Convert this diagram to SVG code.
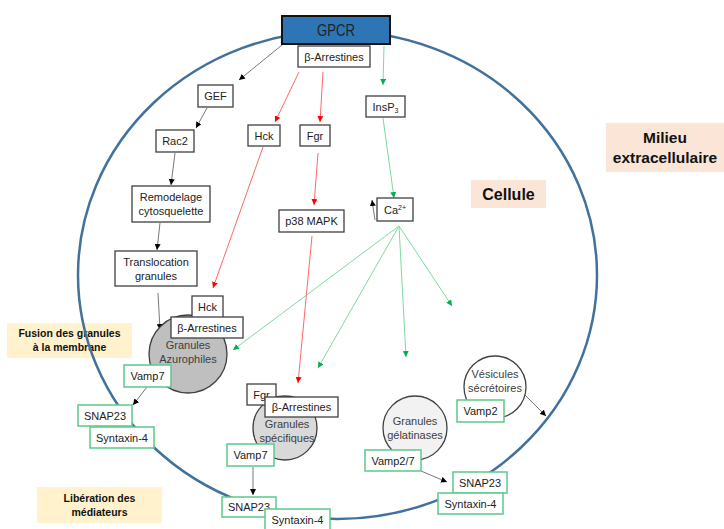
<svg xmlns="http://www.w3.org/2000/svg" width="724" height="529" viewBox="0 0 724 529">
<style>
text{font-family:"Liberation Sans",Arial,sans-serif;fill:#222}
.t{font-size:11px;text-anchor:middle}
.b{fill:#fff;stroke:#404040;stroke-width:1.3}
.g{fill:#fff;stroke:#5CC98A;stroke-width:1.5}
.lab{font-weight:bold;text-anchor:middle;fill:#111}
.ck{stroke:#555;stroke-width:0.8;fill:none}
.cr{stroke:#FF4040;stroke-width:0.8;fill:none}
.cg{stroke:#7ED9A2;stroke-width:1;fill:none}
.gt{font-size:11px;text-anchor:middle;fill:#404040}
</style>
<defs>
<marker id="ak" viewBox="0 0 10 10" refX="10" refY="5" markerWidth="6" markerHeight="6" markerUnits="userSpaceOnUse" orient="auto"><path d="M0,0 L10,5 L0,10 z" fill="#000"/></marker>
<marker id="ar" viewBox="0 0 10 10" refX="10" refY="5" markerWidth="6" markerHeight="6" markerUnits="userSpaceOnUse" orient="auto"><path d="M0,0 L10,5 L0,10 z" fill="#FF0000"/></marker>
<marker id="ag" viewBox="0 0 10 10" refX="10" refY="5" markerWidth="6" markerHeight="6" markerUnits="userSpaceOnUse" orient="auto"><path d="M0,0 L10,5 L0,10 z" fill="#00B050"/></marker>
</defs>
<rect width="724" height="529" fill="#fff"/>

<g id="labels">
<g id="cellule"><rect x="471" y="180" width="75" height="28" fill="#FBE5D6"/><text class="lab" x="508.5" y="200" font-size="16">Cellule</text></g>
<g id="milieu"><rect x="606" y="123" width="118" height="49" fill="#FBE5D6"/><text class="lab" x="665" y="143" font-size="15.5">Milieu</text><text class="lab" x="665" y="163" font-size="15.5">extracellulaire</text></g>
<g id="fusion"><rect x="7" y="323" width="125" height="35" fill="#FFF2CC"/><text class="lab" x="69.5" y="337" font-size="10.5">Fusion des granules</text><text class="lab" x="69.5" y="351" font-size="10.5">à la membrane</text></g>
<g id="liberation"><rect x="37" y="487" width="125" height="36" fill="#FFF2CC"/><text class="lab" x="99.5" y="502" font-size="10.5">Libération des</text><text class="lab" x="99.5" y="516" font-size="10.5">médiateurs</text></g>
</g>

<g id="cell"><ellipse cx="337.5" cy="275" rx="259.5" ry="244" fill="none" stroke="#41719C" stroke-width="2.5"/></g>

<g id="connectors">
<line class="ck" x1="282" y1="45" x2="239" y2="80" marker-end="url(#ak)"/>
<line class="cr" x1="299" y1="72" x2="275" y2="122" marker-end="url(#ar)"/>
<line class="cr" x1="323" y1="72" x2="320" y2="122" marker-end="url(#ar)"/>
<line class="cg" x1="384" y1="46" x2="383" y2="85" marker-end="url(#ag)"/>
<line class="ck" x1="207" y1="108" x2="196" y2="128" marker-end="url(#ak)"/>
<line class="ck" x1="175" y1="153" x2="171" y2="185" marker-end="url(#ak)"/>
<line class="ck" x1="160" y1="223" x2="157" y2="250" marker-end="url(#ak)"/>
<line class="ck" x1="158" y1="293" x2="160" y2="330" marker-end="url(#ak)"/>
<line class="cr" x1="263" y1="147" x2="213" y2="288" marker-end="url(#ar)"/>
<line class="cr" x1="318" y1="153" x2="314" y2="205" marker-end="url(#ar)"/>
<line class="cr" x1="312" y1="236" x2="298" y2="383" marker-end="url(#ar)"/>
<line class="cg" x1="383" y1="118" x2="394" y2="198" marker-end="url(#ag)"/>
<line class="ck" x1="375" y1="220" x2="372" y2="200" marker-end="url(#ak)"/>
<line class="cg" x1="399" y1="226" x2="233" y2="350" marker-end="url(#ag)"/>
<line class="cg" x1="399" y1="226" x2="318" y2="368" marker-end="url(#ag)"/>
<line class="cg" x1="399" y1="226" x2="406" y2="357" marker-end="url(#ag)"/>
<line class="cg" x1="399" y1="226" x2="452" y2="306" marker-end="url(#ag)"/>
<line class="ck" x1="147" y1="387" x2="133" y2="405" marker-end="url(#ak)"/>
<line class="ck" x1="253" y1="467" x2="253" y2="495" marker-end="url(#ak)"/>
<line class="ck" x1="421" y1="471" x2="447" y2="482" marker-end="url(#ak)"/>
<line class="ck" x1="525" y1="395" x2="546" y2="416" marker-end="url(#ak)"/>
</g>

<g id="gpcr"><rect x="282" y="16" width="108" height="28" fill="#2E75B6" stroke="#111" stroke-width="2"/><text x="336" y="36" font-size="16" text-anchor="middle" textLength="38" lengthAdjust="spacingAndGlyphs" fill="#1a1a1a">GPCR</text></g>
<g id="barr-top"><rect class="b" x="298" y="46" width="72" height="21"/><text class="t" x="334" y="60.5">β-Arrestines</text></g>
<g id="gef"><rect class="b" x="198" y="85" width="35" height="22"/><text class="t" x="215.5" y="100">GEF</text></g>
<g id="insp3"><rect class="b" x="366" y="96" width="39" height="21"/><text class="t" x="385.5" y="110.5">InsP<tspan font-size="7" dy="2">3</tspan></text></g>
<g id="rac2"><rect class="b" x="156" y="130" width="38" height="22"/><text class="t" x="175" y="145">Rac2</text></g>
<g id="hck-top"><rect class="b" x="248" y="125" width="32" height="21"/><text class="t" x="264" y="139.5">Hck</text></g>
<g id="fgr-top"><rect class="b" x="300" y="125" width="30" height="21"/><text class="t" x="315" y="139.5">Fgr</text></g>
<g id="remodelage"><rect class="b" x="132" y="186" width="78" height="36"/><text class="t" x="171" y="200.5">Remodelage</text><text class="t" x="171" y="214.5">cytosquelette</text></g>
<g id="translocation"><rect class="b" x="115" y="251" width="82" height="35"/><text class="t" x="156" y="266">Translocation</text><text class="t" x="156" y="280">granules</text></g>
<g id="p38"><rect class="b" x="279" y="210" width="65" height="22"/><text class="t" x="311.5" y="225">p38 MAPK</text></g>
<g id="ca"><rect class="b" x="377" y="198" width="36" height="23"/><text class="t" x="395" y="213.5">Ca<tspan font-size="7" dy="-4">2+</tspan></text></g>

<g id="azurophiles">
<circle cx="188" cy="354" r="39" fill="#BFBFBF" stroke="#404040" stroke-width="1.3"/>
<text class="gt" x="188" y="349">Granules</text><text class="gt" x="188" y="363">Azurophiles</text>
<rect class="b" x="192" y="296" width="31" height="22"/><text class="t" x="207.5" y="311">Hck</text>
<rect class="b" x="171" y="317" width="72" height="21"/><text class="t" x="207" y="331.5">β-Arrestines</text>
<rect class="g" x="124" y="365" width="47" height="22"/><text class="t" x="147.5" y="380">Vamp7</text>
</g>
<g id="snare-left">
<rect class="g" x="78" y="405" width="54" height="21"/><text class="t" x="105" y="419.5">SNAP23</text>
<rect class="g" x="90" y="427" width="64" height="21"/><text class="t" x="122" y="441.5">Syntaxin-4</text>
</g>

<g id="specifiques">
<circle cx="285" cy="428" r="32" fill="#D9D9D9" stroke="#404040" stroke-width="1.3"/>
<rect class="b" x="247" y="384" width="29" height="21"/><text class="t" x="261.5" y="398.5">Fgr</text>
<rect class="b" x="265" y="397" width="73" height="20"/><text class="t" x="301.5" y="411">β-Arrestines</text>
<text class="gt" x="287" y="428">Granules</text><text class="gt" x="287" y="442">spécifiques</text>
<rect class="g" x="227" y="444" width="47" height="22"/><text class="t" x="250.5" y="459">Vamp7</text>
</g>
<g id="snare-bottom">
<rect class="g" x="222" y="497" width="54" height="20"/><text class="t" x="249" y="511">SNAP23</text>
<rect class="g" x="265" y="509" width="65" height="22"/><text class="t" x="297.5" y="524">Syntaxin-4</text>
</g>

<g id="gelatinases">
<circle cx="415" cy="428" r="32" fill="#F2F2F2" stroke="#404040" stroke-width="1.3"/>
<text class="gt" x="415" y="425">Granules</text><text class="gt" x="415" y="439">gélatinases</text>
<rect class="g" x="365" y="450" width="56" height="21"/><text class="t" x="393" y="464.5">Vamp2/7</text>
</g>
<g id="snare-right">
<rect class="g" x="453" y="472" width="54" height="21"/><text class="t" x="480" y="486.5">SNAP23</text>
<rect class="g" x="438" y="493" width="65" height="21"/><text class="t" x="470.5" y="507.5">Syntaxin-4</text>
</g>

<g id="vesicules">
<circle cx="495" cy="387" r="31" fill="#fff" stroke="#404040" stroke-width="1.3"/>
<text class="gt" x="495" y="378">Vésicules</text><text class="gt" x="495" y="392">sécrétoires</text>
<rect class="g" x="457" y="400" width="47" height="22"/><text class="t" x="480.5" y="415">Vamp2</text>
</g>
</svg>
